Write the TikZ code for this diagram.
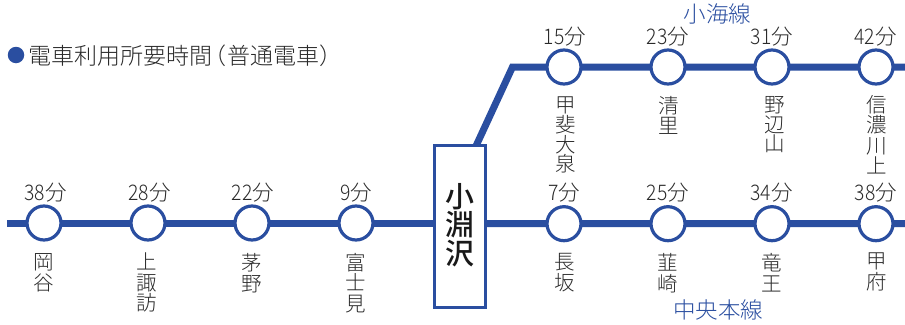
\documentclass[tikz,border=0pt]{standalone}
\usepackage{fontspec}
\setmainfont[FakeStretch=0.9]{Noto Sans CJK JP Light}
\newfontfamily\cjk{Noto Sans CJK JP Light}
\newfontfamily\cjkm{Noto Sans CJK JP Medium}
\definecolor{lineblue}{HTML}{2A4EA0}
\definecolor{inkgrey}{HTML}{2A2A2A}
\tikzset{
  x=1pt,y=-1pt,
  railline/.style={draw=lineblue,line width=7pt},
  stationdot/.style={circle,draw=lineblue,line width=3.2pt,fill=white,minimum size=34pt,inner sep=0pt,outer sep=0pt},
  timelabel/.style={text=inkgrey,inner sep=0pt,font=\fontsize{21.5}{22}\selectfont,anchor=center},
  namelabel/.style={text=inkgrey,inner sep=0pt,align=center,anchor=north,font=\cjk\fontsize{20.5}{#1}\selectfont},
  namelabel/.default=20,
  linelabel/.style={text=lineblue,inner sep=0pt,font=\cjk\fontsize{22.5}{22}\selectfont,anchor=center},
  hubbox/.style={draw=lineblue,line width=3pt,fill=white,minimum width=50.5pt,minimum height=161.5pt,inner sep=0pt,outer sep=0pt},
  hublabel/.style={text=black!90,inner sep=0pt,align=center,font=\cjkm\fontsize{29}{29}\selectfont},
  legenddot/.style={circle,fill=lineblue,minimum size=16.5pt,inner sep=0pt},
  legendtext/.style={text=inkgrey,inner sep=0pt,anchor=west,font=\cjk\fontsize{23}{23}\selectfont},
}
\newcommand{\mins}[1]{#1{\cjk\fontsize{21.5}{22}\selectfont 分}}
\begin{document}
\begin{tikzpicture}
\useasboundingbox (0,0) rectangle (905,324);
\clip (0,0) rectangle (905,324);
% hub and free ends
\node[hubbox] (hub) at (460.2,226.4) {};
\coordinate (west) at (7,223);
\coordinate (east) at (905,223.5);
\coordinate (easttop) at (905,67);
\coordinate (bend) at (512.5,67);
\coordinate (hubtop) at (476,146);
\coordinate (hubw) at (hub.west |- west);
\coordinate (hube) at (hub.east |- east);
% stations
\foreach \n/\x in {oka/44,kam/148,chi/252,fuj/356}{\coordinate (\n) at (\x,223);}
\foreach \n/\x in {nag/564,nir/668,ryu/772,kof/876}{\coordinate (\n) at (\x,223.7);}
\foreach \n/\x in {kai/564,kiy/668,nob/772,shi/876}{\coordinate (\n) at (\x,67);}
% connectors
\draw[railline] (west) -- (oka) -- (kam) -- (chi) -- (fuj) -- (hubw);
\draw[railline] (hube) -- (nag) -- (nir) -- (ryu) -- (kof) -- (east);
\draw[railline,line join=miter] (hubtop) -- (bend) -- (kai) -- (kiy) -- (nob) -- (shi) -- (easttop);
% redraw hub over line ends
\node[hubbox] (hubface) at (hub) {};
\node[hublabel] (hubname) at (460.2,225) {小\\[-0.5pt]淵\\沢};
% station circles
\foreach \n in {oka,kam,chi,fuj,nag,nir,ryu,kof,kai,kiy,nob,shi}{\node[stationdot] (s\n) at (\n) {};}
% times
\node[timelabel] (toka) at (45.5,192.5) {\mins{38}};
\node[timelabel] (tkam) at (149.5,192.5) {\mins{28}};
\node[timelabel] (tchi) at (253,192.5) {\mins{22}};
\node[timelabel] (tfuj) at (356.5,192.5) {\mins{9}};
\node[timelabel] (tnag) at (564.5,192.5) {\mins{7}};
\node[timelabel] (tnir) at (668,192.5) {\mins{25}};
\node[timelabel] (tryu) at (771.5,192.5) {\mins{34}};
\node[timelabel] (tkof) at (876,192.5) {\mins{38}};
\node[timelabel] (tkai) at (565,36.5) {\mins{15}};
\node[timelabel] (tkiy) at (668,36.5) {\mins{23}};
\node[timelabel] (tnob) at (772,36.5) {\mins{31}};
\node[timelabel] (tshi) at (875.5,36.5) {\mins{42}};
% names
\node[namelabel=21] (noka) at (44,253) {岡\\谷};
\node[namelabel=20.5] (nkam) at (147,253) {上\\諏\\訪};
\node[namelabel=21] (nchi) at (252,253) {茅\\野};
\node[namelabel=20.5] (nfuj) at (356,253) {富\\士\\見};
\node[namelabel=21] (nnag) at (565,253) {長\\坂};
\node[namelabel=21] (nnir) at (668,253) {韮\\崎};
\node[namelabel=21] (nryu) at (772,253) {竜\\王};
\node[namelabel=21] (nkof) at (877,253) {甲\\府};
\node[namelabel=18.2] (nkai) at (566,97) {甲\\斐\\大\\泉};
\node[namelabel=20] (nkiy) at (669,96) {清\\里};
\node[namelabel=19.5] (nnob) at (775,96.5) {野\\辺\\山};
\node[namelabel=20.5] (nshi) at (877,95) {信\\濃\\川\\上};
% line names
\node[linelabel] (lkoumi) at (717.5,14) {小海線};
\node[linelabel] (lchuo) at (718,310) {中央本線};
% legend
\node[legenddot] (ldot) at (16,55) {};
\node[legendtext] (ltext) at (28,55.5) {電車利用所要時間\hspace*{-9pt}（\hspace*{1pt}普通電車）};
\end{tikzpicture}
\end{document}
